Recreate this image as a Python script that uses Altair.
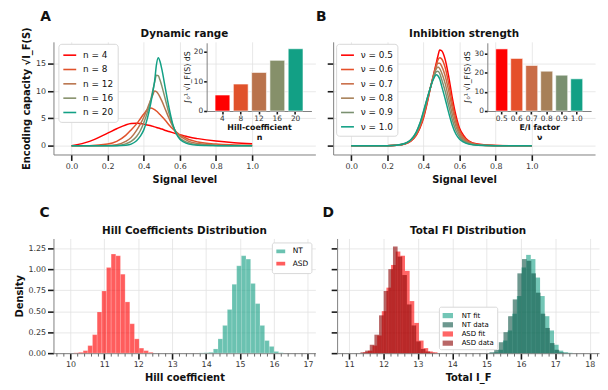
import altair as alt
import pandas as pd

FONT = "DejaVu Sans"

# ---------------- data: panel A / B (encoding capacity curves) ----------------
signal = [0, 0.1, 0.2, 0.25, 0.3, 0.33, 0.36, 0.38, 0.40, 0.42, 0.44, 0.45, 0.46, 0.47,
          0.48, 0.49, 0.50, 0.52, 0.54, 0.56, 0.58, 0.60, 0.62, 0.65, 0.70, 0.80, 0.90, 1.00]

hill_n = [4, 8, 12, 16, 20]
cap_n4 = [0, .8, 2.3, 3.1, 3.8, 4.05, 4.1, 4.05, 3.95, 3.8, 3.65, 3.55, 3.45, 3.35,
          3.25, 3.15, 3.05, 2.8, 2.6, 2.4, 2.2, 2.0, 1.85, 1.6, 1.3, .85, .55, .35]
cap_n8 = [0, .02, .3, .8, 1.9, 2.9, 4.0, 4.9, 5.8, 6.6, 6.9, 6.8, 6.6, 6.35,
          6.05, 5.7, 5.35, 4.6, 3.8, 3.1, 2.5, 2.0, 1.65, 1.15, .7, .3, .15, .08]
cap_n12 = [0, 0, .05, .2, .8, 1.5, 2.8, 3.9, 5.2, 6.8, 8.5, 9.3, 10.0, 9.9,
           9.5, 8.9, 8.2, 6.6, 5.0, 3.6, 2.5, 1.8, 1.35, .8, .4, .1, .04, .02]
cap_n16 = [0, 0, .01, .05, .35, .8, 1.7, 2.7, 4.2, 6.1, 8.6, 10.1, 11.6, 12.9,
           12.8, 12.0, 10.9, 8.4, 5.9, 3.8, 2.3, 1.4, .95, .5, .2, .04, .01, 0]
cap_n20 = [0, 0, 0, .01, .1, .3, .9, 1.7, 2.9, 5.0, 8.0, 9.8, 11.8, 14.8,
           16.1, 15.4, 14.0, 10.4, 6.9, 4.0, 2.2, 1.2, .7, .3, .08, .02, 0, 0]
hill_curves = [cap_n4, cap_n8, cap_n12, cap_n16, cap_n20]
hill_totals = [5.4, 9.1, 13.0, 17.1, 21.0]

nu_values = ["0.5", "0.6", "0.7", "0.8", "0.9", "1.0"]
cap_nu05 = [0, 0, .02, .08, .35, .85, 1.9, 3.2, 5.0, 7.7, 10.8, 12.2, 13.6, 15.0,
            16.4, 17.5, 17.4, 15.8, 12.6, 8.7, 5.5, 3.2, 2.0, .9, .3, .04, 0, 0]
cap_nu06 = [0, 0, .02, .08, .37, .9, 2.0, 3.4, 5.3, 7.9, 10.8, 12.1, 13.4, 14.6,
            15.7, 16.1, 15.9, 14.3, 11.3, 7.7, 4.8, 2.8, 1.7, .8, .25, .03, 0, 0]
cap_nu07 = [0, 0, .02, .09, .4, .95, 2.15, 3.6, 5.6, 8.2, 10.8, 12.0, 13.3, 14.4,
            15.1, 15.1, 14.6, 12.8, 10.0, 6.8, 4.2, 2.4, 1.4, .65, .2, .02, 0, 0]
cap_nu08 = [0, 0, .02, .09, .42, 1.0, 2.3, 3.8, 5.9, 8.4, 10.8, 12.0, 13.1, 14.0,
            14.4, 14.1, 13.4, 11.4, 8.6, 5.7, 3.5, 2.0, 1.1, .5, .15, .02, 0, 0]
cap_nu09 = [0, 0, .02, .1, .44, 1.05, 2.4, 4.0, 6.1, 8.5, 10.8, 11.9, 12.8, 13.5,
            13.6, 13.2, 12.2, 10.0, 7.3, 4.7, 2.8, 1.6, .9, .4, .1, .01, 0, 0]
cap_nu10 = [0, 0, .02, .1, .45, 1.1, 2.5, 4.1, 6.3, 8.6, 10.8, 11.8, 12.5, 13.0,
            12.8, 12.2, 11.0, 8.6, 6.0, 3.7, 2.1, 1.2, .7, .3, .08, .01, 0, 0]
nu_curves = [cap_nu05, cap_nu06, cap_nu07, cap_nu08, cap_nu09, cap_nu10]
nu_totals = [32.6, 27.6, 23.9, 20.9, 18.8, 16.9]

colors_n = ["#ff0000", "#e0522b", "#b9734c", "#86906a", "#12a085"]
colors_nu = ["#ff0000", "#e5502a", "#c96c47", "#a78058", "#7a9070", "#12a085"]

# ---------------- data: panel C (Hill coefficient histograms) ----------------
c_bin_width = 0.1375
c_nt_start = 13.80
c_nt_density = [0.003, 0.005, 0.01, 0.05, 0.17, 0.33, 0.52, 0.82, 1.04, 1.16,
                1.12, 0.83, 0.59, 0.33, 0.15, 0.08, 0.02, 0.005]
c_asd_start = 10.10
c_asd_density = [0.004, 0.01, 0.03, 0.09, 0.22, 0.49, 0.74, 1.02, 1.18, 1.16,
                 0.94, 0.61, 0.35, 0.17, 0.06, 0.03, 0.01]

# ---------------- data: panel D (total FI histograms) ----------------
d_bin_width = 0.135
d_nt_fit_start = 15.07
d_nt_fit = [0.003, 0.01, 0.04, 0.15, 0.27, 0.47, 0.68, 1.02, 1.17, 1.12,
            0.90, 0.68, 0.44, 0.27, 0.10, 0.03, 0.01, 0.004]
d_nt_data_start = 15.085
d_nt_data = [0.01, 0.04, 0.13, 0.25, 0.44, 0.64, 0.95, 1.12, 1.10, 0.95,
             0.72, 0.47, 0.30, 0.12, 0.04, 0.01, 0.004]
d_asd_fit_start = 11.41
d_asd_fit = [0.01, 0.03, 0.09, 0.21, 0.50, 0.78, 1.05, 1.21, 1.16, 0.98,
             0.62, 0.36, 0.15, 0.06, 0.02, 0.01]
d_asd_data_start = 11.33
d_asd_data = [0.01, 0.03, 0.10, 0.22, 0.45, 0.74, 1.00, 1.27, 1.15, 0.93,
              0.58, 0.33, 0.14, 0.05, 0.02, 0.005]

# ---------------- tables ----------------
labels_n = [f"n = {n}" for n in hill_n]
dfA = pd.DataFrame([{"s": s, "cap": v, "curve": lab}
                    for lab, ys in zip(labels_n, hill_curves) for s, v in zip(signal, ys)])
dfAbar = pd.DataFrame({"n": [str(n) for n in hill_n], "total": hill_totals})

labels_nu = [f"ν = {v}" for v in nu_values]
dfB = pd.DataFrame([{"s": s, "cap": v, "curve": lab}
                    for lab, ys in zip(labels_nu, nu_curves) for s, v in zip(signal, ys)])
dfBbar = pd.DataFrame({"nu": nu_values, "total": nu_totals})


def hist_rows(start, width, dens, name):
    return [{"x0": start + i * width, "x1": start + (i + 1) * width, "dens": d, "grp": name}
            for i, d in enumerate(dens)]


dfC = pd.DataFrame(hist_rows(c_nt_start, c_bin_width, c_nt_density, "NT")
                   + hist_rows(c_asd_start, c_bin_width, c_asd_density, "ASD"))
dfD = pd.DataFrame(hist_rows(d_nt_fit_start, d_bin_width, d_nt_fit, "NT fit")
                   + hist_rows(d_asd_fit_start, d_bin_width, d_asd_fit, "ASD fit")
                   + hist_rows(d_nt_data_start, d_bin_width, d_nt_data, "NT data")
                   + hist_rows(d_asd_data_start, d_bin_width, d_asd_data, "ASD data"))

# ---------------- helpers ----------------
W, H_TOP, H_BOT = 265, 114, 116
cap_domain = [-1.6, 19.0]
sig_axis_vals = [0, 0.2, 0.4, 0.6, 0.8, 1.0]


def text_at(t, dx, dy, size, baseline="top"):
    return alt.Chart(pd.DataFrame({"t": [t]})).mark_text(
        font=FONT, fontSize=size, fontWeight="bold", align="center", baseline=baseline,
        color="#111111"
    ).encode(x=alt.value(dx), y=alt.value(dy), text="t:N")


def letter(t, dx, dy):
    return text_at(t, dx, dy, 14)


def title(t):
    return text_at(t, W / 2, -8, 10.5, "middle")


def minor_ticks(domain, values):
    return alt.Chart(pd.DataFrame({"m": values})).mark_point(opacity=0).encode(
        x=alt.X("m:Q", scale=alt.Scale(domain=domain, nice=False, zero=False),
                axis=alt.Axis(orient="bottom", values=values, labels=False, grid=False,
                              domain=False, tickSize=3, tickWidth=0.8, tickColor="#444444",
                              title=None)))


def line_legend(x, y):
    return alt.Legend(orient="none", legendX=x, legendY=y, title=None, symbolType="stroke",
                      symbolSize=170, symbolStrokeWidth=1.6, labelFontSize=9, labelFont=FONT,
                      rowPadding=1.5, padding=4, strokeColor="#d8d8d8", fillColor="white",
                      cornerRadius=3, labelOffset=6, labelColor="#111")


def curve_panel(df, labels, colors, show_y, legend_x):
    yaxis = (alt.Axis(values=[0, 5, 10, 15], title="Encoding capacity √I_F(S)")
             if show_y else alt.Axis(values=[0, 5, 10, 15], labels=False, title=None))
    return alt.Chart(df).mark_line(strokeWidth=1.5, interpolate="monotone").encode(
        x=alt.X("s:Q", scale=alt.Scale(domain=[-0.1, 1.35], nice=False, zero=False),
                axis=alt.Axis(values=sig_axis_vals, format=".1f", title="Signal level")),
        y=alt.Y("cap:Q", scale=alt.Scale(domain=cap_domain, nice=False, zero=False), axis=yaxis),
        color=alt.Color("curve:N", sort=labels, scale=alt.Scale(domain=labels, range=colors),
                        legend=line_legend(legend_x, 2)),
    )


def inset_bars(df, field, cats, colors, xrange, pin, pout, ydom, yvals, xtitle):
    return alt.Chart(df).mark_bar(stroke="white", strokeWidth=0.6).encode(
        x=alt.X(f"{field}:N", sort=cats,
                scale=alt.Scale(domain=cats, range=xrange, paddingInner=pin, paddingOuter=pout),
                axis=alt.Axis(orient="bottom", offset=-44, labelAngle=0, grid=False, title=xtitle,
                              titleFontSize=8, labelFontSize=7.5, titlePadding=1, tickSize=3,
                              labelPadding=1)),
        y=alt.Y("total:Q", scale=alt.Scale(domain=ydom, range=[70, 1], nice=False, zero=True),
                axis=alt.Axis(orient="left", offset=-xrange[0], values=yvals, grid=False,
                              title="∫₀¹ √I_F(S) dS", titleFontSize=8, titleFontWeight="normal",
                              labelFontSize=7.5, tickSize=3, titlePadding=2, labelPadding=1)),
        color=alt.Color(f"{field}:N", scale=alt.Scale(domain=cats, range=colors), legend=None),
    )


panelA = alt.layer(
    curve_panel(dfA, labels_n, colors_n, True, 5),
    inset_bars(dfAbar, "n", [str(n) for n in hill_n], colors_n, [155, 261], 0.19, 0.46,
               [0, 23], [0, 10, 20], ["Hill-coefficient", "n"]),
    letter("A", -8, -32),
    title("Dynamic range"),
).resolve_scale(x="independent", y="independent", color="independent").properties(
    width=W, height=H_TOP)

panelB = alt.layer(
    curve_panel(dfB, labels_nu, colors_nu, False, 3),
    inset_bars(dfBbar, "nu", nu_values, colors_nu, [156, 261], 0.2, 0.56,
               [0, 35.8], [0, 10, 20, 30], ["E/I factor", "ν"]),
    letter("B", -12, -32),
    title("Inhibition strength"),
).resolve_scale(x="independent", y="independent", color="independent").properties(
    width=W, height=H_TOP)

rect_sym = "M-1,-0.5H1V0.5H-1Z"
c_domain = [9.5, 17.22]
d_domain = [10.65, 18.27]
c_minor = [round(9.6 + 0.2 * i, 1) for i in range(39) if abs((9.6 + 0.2 * i) % 1) > 0.05
           and abs((9.6 + 0.2 * i) % 1 - 1) > 0.05]
d_minor = [round(10.8 + 0.2 * i, 1) for i in range(38) if abs((10.8 + 0.2 * i) % 1) > 0.05
           and abs((10.8 + 0.2 * i) % 1 - 1) > 0.05]

histC = alt.Chart(dfC).mark_rect(opacity=0.63, stroke="white", strokeWidth=0.4, strokeOpacity=0.5).encode(
    x=alt.X("x0:Q", scale=alt.Scale(domain=c_domain, nice=False, zero=False),
            axis=alt.Axis(values=list(range(10, 18)), title="Hill coefficient")),
    x2="x1:Q",
    y=alt.Y("dens:Q", scale=alt.Scale(domain=[0, 1.365], nice=False),
            axis=alt.Axis(values=[0, 0.25, 0.5, 0.75, 1.0, 1.25], format=".2f", title="Density")),
    y2=alt.datum(0),
    color=alt.Color("grp:N", scale=alt.Scale(domain=["NT", "ASD"], range=["#16a085", "#ff0000"]),
                    legend=alt.Legend(orient="none", legendX=221, legendY=4, title=None,
                                      symbolType=rect_sym, symbolSize=110, labelFontSize=7.5,
                                      rowPadding=0.5, padding=3, strokeColor="#d8d8d8",
                                      fillColor="white", cornerRadius=2, labelOffset=6)),
)
panelC = alt.layer(histC, minor_ticks(c_domain, c_minor), letter("C", -9, -33),
                   title("Hill Coefficients Distribution")).resolve_scale(
    x="independent").properties(width=W, height=H_BOT)

histD = alt.Chart(dfD).mark_rect(opacity=0.6).encode(
    x=alt.X("x0:Q", scale=alt.Scale(domain=d_domain, nice=False, zero=False),
            axis=alt.Axis(values=list(range(11, 19)), title="Total I_F")),
    x2="x1:Q",
    y=alt.Y("dens:Q", scale=alt.Scale(domain=[0, 1.365], nice=False),
            axis=alt.Axis(values=[0, 0.25, 0.5, 0.75, 1.0, 1.25], labels=False, title=None)),
    y2=alt.datum(0),
    color=alt.Color("grp:N",
                    scale=alt.Scale(domain=["NT fit", "NT data", "ASD fit", "ASD data"],
                                    range=["#16a085", "#0b5345", "#ff0000", "#8b0000"]),
                    legend=alt.Legend(orient="none", legendX=103, legendY=69, title=None,
                                      symbolType=rect_sym, symbolSize=110, labelFontSize=7,
                                      rowPadding=0.3, padding=3, strokeColor="#d8d8d8",
                                      fillColor="white", cornerRadius=2, labelOffset=8)),
)
panelD = alt.layer(histD, minor_ticks(d_domain, d_minor), letter("D", -9, -33),
                   title("Total FI Distribution")).resolve_scale(
    x="independent").properties(width=W, height=H_BOT)

top = alt.hconcat(panelA, panelB, spacing=0).resolve_scale(color="independent")
bottom = alt.hconcat(panelC, panelD, spacing=4).resolve_scale(color="independent")

chart = alt.vconcat(top, bottom, spacing=22).resolve_scale(color="independent").properties(
    padding={"left": 6, "top": 0, "right": 0, "bottom": 0}
).configure(font=FONT).configure_axis(
    domainColor="#808080", domainWidth=1,
    tickColor="#1a1a1a", tickWidth=1.6, tickSize=6,
    gridColor="#e2e2e2", gridWidth=0.8,
    labelFont=FONT, labelFontSize=8, labelColor="#333333", labelPadding=2,
    titleFont=FONT, titleFontSize=10, titleFontWeight="bold", titleColor="#111111", titlePadding=4,
).configure_view(stroke=None).configure_legend(labelFont=FONT)

chart.save("out.html", embed_options={"renderer": "svg", "actions": False})
